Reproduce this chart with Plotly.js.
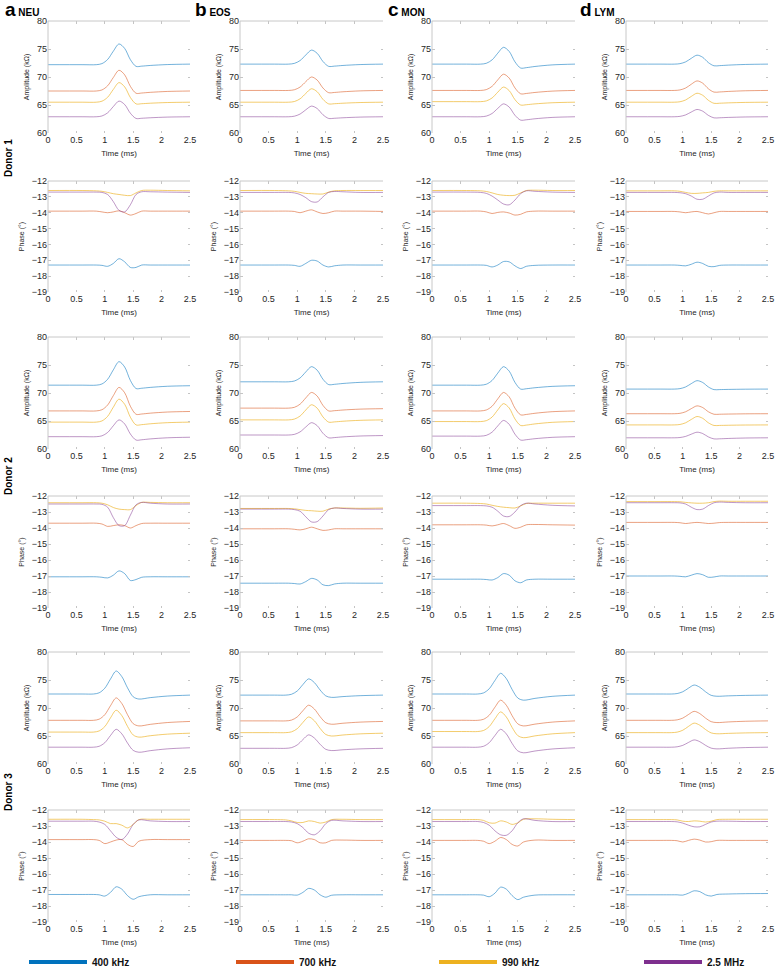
<!DOCTYPE html>
<html><head><meta charset="utf-8">
<script src="https://cdn.plot.ly/plotly-3.0.1.min.js"></script>
<style>html,body{margin:0;padding:0;background:#fff}#chart{width:775px;height:967px}</style>
</head><body><div id="chart"></div>
<script>
// ---------- categories / ticks ----------
const cellTypes = ['NEU','EOS','MON','LYM'];
const cellLetters = ['a','b','c','d'];
const donors = ['Donor 1','Donor 2','Donor 3'];
const freqs = ['400 kHz','700 kHz','990 kHz','2.5 MHz'];
const timeTicks = [0,0.5,1,1.5,2,2.5];
const ampTicks = [60,65,70,75,80];
const phaseTicks = [-19,-18,-17,-16,-15,-14,-13,-12];

// sample times (ms)
const timeD12 = [0,0.6,0.85,0.95,1.05,1.15,1.25,1.35,1.45,1.55,1.65,1.8,2.1,2.5];
const timeD3  = [0,0.6,0.8,0.9,1.0,1.1,1.2,1.3,1.4,1.5,1.6,1.8,2.1,2.5];

// ---------- amplitude (kΩ), rows: 400 kHz, 700 kHz, 990 kHz, 2.5 MHz ----------
const ampD1NEU = [
 [72.2,72.2,72.2,72.39,73.13,74.61,75.9,75.1,73.1,71.9,71.94,72.06,72.22,72.3],
 [67.5,67.5,67.5,67.69,68.43,69.91,71.2,70.38,68.33,67.1,67.14,67.26,67.42,67.5],
 [65.5,65.5,65.5,65.68,66.38,67.78,69.0,68.24,66.34,65.2,65.23,65.32,65.44,65.5],
 [62.9,62.9,62.9,63.04,63.6,64.72,65.7,65.08,63.53,62.6,62.63,62.72,62.84,62.9]];
const ampD1EOS = [
 [72.3,72.3,72.3,72.43,72.93,73.93,74.8,74.22,72.77,71.9,71.94,72.06,72.22,72.3],
 [67.6,67.6,67.6,67.72,68.2,69.16,70.0,69.44,68.04,67.2,67.24,67.36,67.52,67.6],
 [65.5,65.5,65.5,65.62,66.1,67.06,67.9,67.36,66.01,65.2,65.23,65.32,65.44,65.5],
 [62.9,62.9,62.9,63.0,63.38,64.14,64.8,64.36,63.26,62.6,62.63,62.72,62.84,62.9]];
const ampD1MON = [
 [72.3,72.3,72.3,72.45,73.05,74.25,75.3,74.56,72.71,71.6,71.67,71.88,72.16,72.3],
 [67.6,67.6,67.6,67.75,68.33,69.49,70.5,69.8,68.05,67.0,67.06,67.24,67.48,67.6],
 [65.6,65.6,65.6,65.73,66.25,67.29,68.2,67.56,65.96,65.0,65.05,65.2,65.4,65.5],
 [62.9,62.9,62.9,63.02,63.48,64.4,65.2,64.62,63.17,62.3,62.36,62.54,62.78,62.9]];
const ampD1LYM = [
 [72.3,72.3,72.3,72.38,72.7,73.34,73.9,73.52,72.57,72.0,72.03,72.12,72.24,72.3],
 [67.6,67.6,67.6,67.69,68.03,68.71,69.3,68.9,67.9,67.3,67.33,67.42,67.54,67.6],
 [65.5,65.5,65.5,65.58,65.9,66.54,67.1,66.74,65.84,65.3,65.32,65.38,65.46,65.5],
 [62.9,62.9,62.9,62.97,63.23,63.75,64.2,63.9,63.15,62.7,62.72,62.78,62.86,62.9]];
const ampD2NEU = [
 [71.4,71.4,71.4,71.61,72.45,74.13,75.6,74.64,72.24,70.8,70.85,71.0,71.2,71.3],
 [66.8,66.8,66.8,67.01,67.85,69.53,71.0,70.04,67.64,66.2,66.25,66.4,66.6,66.7],
 [64.8,64.8,64.8,65.01,65.83,67.47,68.9,67.98,65.68,64.3,64.35,64.5,64.7,64.8],
 [62.2,62.2,62.2,62.35,62.95,64.15,65.2,64.48,62.68,61.6,61.65,61.8,62.0,62.1]];
const ampD2EOS = [
 [72.0,72.0,72.0,72.14,72.68,73.76,74.7,74.06,72.46,71.5,71.55,71.7,71.9,72.0],
 [67.3,67.3,67.3,67.44,68.0,69.12,70.1,69.44,67.79,66.8,66.84,66.96,67.12,67.2],
 [65.2,65.2,65.2,65.34,65.88,66.96,67.9,67.28,65.73,64.8,64.84,64.96,65.12,65.2],
 [62.5,62.5,62.5,62.61,63.05,63.93,64.7,64.16,62.81,62.0,62.04,62.16,62.32,62.4]];
const ampD2MON = [
 [71.4,71.4,71.4,71.57,72.23,73.55,74.7,73.9,71.9,70.7,70.76,70.94,71.18,71.3],
 [66.8,66.8,66.8,66.97,67.63,68.95,70.1,69.3,67.3,66.1,66.17,66.38,66.66,66.8],
 [64.9,64.9,64.9,65.06,65.7,66.98,68.1,67.32,65.37,64.2,64.27,64.48,64.76,64.9],
 [62.3,62.3,62.3,62.44,63.0,64.12,65.1,64.4,62.65,61.6,61.66,61.84,62.08,62.2]];
const ampD2LYM = [
 [70.7,70.7,70.7,70.78,71.08,71.68,72.2,71.88,71.08,70.6,70.61,70.64,70.68,70.7],
 [66.3,66.3,66.3,66.37,66.65,67.21,67.7,67.4,66.65,66.2,66.21,66.24,66.28,66.3],
 [64.3,64.3,64.3,64.38,64.68,65.28,65.8,65.48,64.68,64.2,64.21,64.24,64.28,64.3],
 [62.0,62.0,62.0,62.05,62.25,62.65,63.0,62.76,62.16,61.8,61.82,61.88,61.96,62.0]];
const ampD3NEU = [
 [72.5,72.5,72.5,72.71,73.53,75.17,76.6,75.6,73.6,72.0,71.6,71.85,72.13,72.3],
 [67.8,67.8,67.8,68.0,68.8,70.4,71.8,70.8,68.8,67.2,66.8,67.08,67.4,67.6],
 [65.7,65.7,65.7,65.9,66.68,68.24,69.6,68.64,66.72,65.18,64.8,65.05,65.33,65.5],
 [63.0,63.0,63.0,63.16,63.8,65.08,66.2,65.38,63.74,62.43,62.1,62.38,62.7,62.9]];
const ampD3EOS = [
 [72.3,72.3,72.3,72.45,73.03,74.19,75.2,74.54,73.22,72.16,71.9,72.04,72.2,72.3],
 [67.7,67.7,67.7,67.84,68.4,69.52,70.5,69.82,68.46,67.37,67.1,67.28,67.48,67.6],
 [65.6,65.6,65.6,65.74,66.3,67.42,68.4,67.72,66.36,65.27,65.0,65.18,65.38,65.5],
 [62.8,62.8,62.8,62.92,63.4,64.36,65.2,64.64,63.52,62.62,62.4,62.54,62.7,62.8]];
const ampD3MON = [
 [72.5,72.5,72.5,72.69,73.43,74.91,76.2,75.24,73.32,71.78,71.4,71.72,72.08,72.3],
 [67.8,67.8,67.8,67.98,68.7,70.14,71.4,70.48,68.64,67.17,66.8,67.12,67.48,67.7],
 [65.8,65.8,65.8,65.98,66.68,68.08,69.3,68.38,66.54,65.07,64.7,65.02,65.38,65.6],
 [63.0,63.0,63.0,63.16,63.8,65.08,66.2,65.36,63.68,62.34,62.0,62.32,62.68,62.9]];
const ampD3LYM = [
 [72.5,72.5,72.5,72.58,72.9,73.54,74.1,73.7,72.9,72.26,72.1,72.17,72.25,72.3],
 [67.8,67.8,67.8,67.88,68.2,68.84,69.4,69.0,68.2,67.56,67.4,67.51,67.63,67.7],
 [65.6,65.6,65.6,65.69,66.03,66.71,67.3,66.92,66.16,65.55,65.4,65.47,65.55,65.6],
 [63.0,63.0,63.0,63.07,63.33,63.85,64.3,63.98,63.34,62.83,62.7,62.81,62.93,63.0]];

// ---------- phase (°) ----------
const phD1NEU = [
 [-17.3,-17.3,-17.3,-17.32,-17.38,-17.2,-16.9,-17.1,-17.45,-17.45,-17.3,-17.3,-17.3,-17.3],
 [-13.9,-13.9,-13.9,-13.95,-14.0,-13.95,-13.88,-14.0,-14.15,-14.05,-13.9,-13.9,-13.9,-13.9],
 [-12.6,-12.6,-12.62,-12.65,-12.72,-12.8,-12.85,-12.9,-12.92,-12.75,-12.6,-12.58,-12.6,-12.62],
 [-12.7,-12.7,-12.7,-12.72,-12.85,-13.3,-13.85,-13.95,-13.5,-12.85,-12.68,-12.68,-12.7,-12.72]];
const phD1EOS = [
 [-17.3,-17.3,-17.3,-17.32,-17.38,-17.2,-17.0,-17.05,-17.3,-17.42,-17.35,-17.3,-17.3,-17.3],
 [-13.9,-13.9,-13.9,-13.92,-14.0,-13.9,-13.82,-13.95,-14.05,-14.0,-13.9,-13.9,-13.9,-13.92],
 [-12.6,-12.6,-12.62,-12.65,-12.72,-12.78,-12.8,-12.82,-12.82,-12.7,-12.62,-12.6,-12.6,-12.6],
 [-12.72,-12.72,-12.72,-12.75,-12.85,-13.05,-13.3,-13.32,-13.0,-12.72,-12.66,-12.68,-12.72,-12.72]];
const phD1MON = [
 [-17.3,-17.3,-17.3,-17.32,-17.42,-17.3,-17.08,-17.1,-17.35,-17.52,-17.38,-17.32,-17.3,-17.3],
 [-13.9,-13.9,-13.9,-13.95,-14.05,-13.98,-13.95,-14.02,-14.15,-14.1,-13.95,-13.9,-13.9,-13.9],
 [-12.6,-12.6,-12.62,-12.66,-12.75,-12.85,-12.9,-12.92,-12.9,-12.75,-12.6,-12.58,-12.6,-12.6],
 [-12.7,-12.7,-12.72,-12.78,-12.95,-13.2,-13.45,-13.5,-13.2,-12.8,-12.62,-12.65,-12.7,-12.72]];
const phD1LYM = [
 [-17.3,-17.3,-17.3,-17.32,-17.35,-17.25,-17.12,-17.2,-17.38,-17.4,-17.32,-17.3,-17.3,-17.3],
 [-13.92,-13.92,-13.92,-13.95,-14.0,-13.95,-13.92,-14.0,-14.08,-14.0,-13.92,-13.92,-13.92,-13.92],
 [-12.62,-12.62,-12.62,-12.65,-12.72,-12.78,-12.78,-12.75,-12.72,-12.65,-12.62,-12.62,-12.62,-12.62],
 [-12.72,-12.72,-12.72,-12.74,-12.8,-12.95,-13.15,-13.15,-12.95,-12.75,-12.7,-12.72,-12.72,-12.72]];
const phD2NEU = [
 [-17.05,-17.05,-17.05,-17.08,-17.12,-16.95,-16.68,-16.85,-17.28,-17.22,-17.08,-17.05,-17.05,-17.05],
 [-13.7,-13.7,-13.7,-13.75,-13.9,-13.85,-13.8,-13.85,-14.0,-13.85,-13.72,-13.7,-13.7,-13.7],
 [-12.42,-12.42,-12.42,-12.45,-12.55,-12.72,-12.82,-12.85,-12.85,-12.6,-12.4,-12.4,-12.42,-12.42],
 [-12.5,-12.5,-12.5,-12.52,-12.7,-13.35,-13.85,-13.85,-13.2,-12.55,-12.4,-12.45,-12.5,-12.5]];
const phD2EOS = [
 [-17.45,-17.45,-17.45,-17.47,-17.5,-17.35,-17.15,-17.25,-17.55,-17.6,-17.5,-17.45,-17.45,-17.45],
 [-14.05,-14.05,-14.05,-14.08,-14.12,-14.05,-13.95,-14.05,-14.15,-14.12,-14.05,-14.05,-14.05,-14.05],
 [-12.78,-12.78,-12.78,-12.8,-12.85,-12.9,-12.92,-12.95,-12.95,-12.82,-12.75,-12.75,-12.77,-12.75],
 [-12.82,-12.82,-12.82,-12.85,-12.95,-13.3,-13.62,-13.6,-13.25,-12.85,-12.75,-12.78,-12.82,-12.82]];
const phD2MON = [
 [-17.2,-17.2,-17.2,-17.22,-17.25,-17.1,-16.85,-16.95,-17.3,-17.42,-17.25,-17.2,-17.2,-17.2],
 [-13.8,-13.8,-13.8,-13.82,-13.87,-13.8,-13.72,-13.85,-14.02,-13.95,-13.8,-13.78,-13.8,-13.82],
 [-12.45,-12.45,-12.47,-12.5,-12.58,-12.65,-12.7,-12.73,-12.75,-12.62,-12.47,-12.45,-12.45,-12.45],
 [-12.6,-12.6,-12.6,-12.62,-12.7,-12.95,-13.25,-13.28,-13.0,-12.6,-12.45,-12.5,-12.58,-12.62]];
const phD2LYM = [
 [-17.0,-17.0,-17.0,-17.02,-17.05,-16.95,-16.85,-16.92,-17.08,-17.06,-17.0,-17.0,-17.0,-17.0],
 [-13.65,-13.65,-13.65,-13.67,-13.72,-13.68,-13.65,-13.68,-13.72,-13.7,-13.66,-13.65,-13.65,-13.65],
 [-12.35,-12.35,-12.35,-12.36,-12.4,-12.43,-12.45,-12.45,-12.42,-12.35,-12.32,-12.33,-12.33,-12.33],
 [-12.42,-12.42,-12.42,-12.43,-12.5,-12.7,-12.85,-12.82,-12.6,-12.42,-12.38,-12.4,-12.42,-12.42]];
const phD3NEU = [
 [-17.28,-17.28,-17.28,-17.3,-17.38,-17.15,-16.8,-16.95,-17.35,-17.58,-17.42,-17.3,-17.3,-17.3],
 [-13.85,-13.85,-13.85,-13.9,-14.1,-14.0,-13.88,-13.85,-14.15,-14.28,-13.95,-13.85,-13.85,-13.85],
 [-12.58,-12.58,-12.6,-12.62,-12.7,-12.85,-12.85,-12.95,-13.12,-12.9,-12.6,-12.58,-12.58,-12.58],
 [-12.7,-12.7,-12.7,-12.75,-12.9,-13.3,-13.7,-13.85,-13.5,-12.9,-12.62,-12.68,-12.72,-12.72]];
const phD3EOS = [
 [-17.3,-17.3,-17.3,-17.3,-17.32,-17.15,-16.9,-17.0,-17.3,-17.45,-17.33,-17.3,-17.3,-17.3],
 [-13.9,-13.9,-13.9,-13.92,-14.05,-13.95,-13.8,-13.85,-14.05,-14.05,-13.9,-13.88,-13.9,-13.9],
 [-12.6,-12.6,-12.62,-12.68,-12.78,-12.78,-12.68,-12.72,-12.82,-12.75,-12.6,-12.58,-12.6,-12.6],
 [-12.72,-12.72,-12.72,-12.75,-12.85,-13.1,-13.45,-13.55,-13.3,-12.85,-12.65,-12.68,-12.72,-12.72]];
const phD3MON = [
 [-17.3,-17.3,-17.3,-17.32,-17.42,-17.2,-16.82,-16.95,-17.35,-17.6,-17.45,-17.32,-17.3,-17.3],
 [-13.9,-13.9,-13.9,-13.95,-14.1,-13.95,-13.72,-13.85,-14.15,-14.25,-14.0,-13.88,-13.9,-13.9],
 [-12.6,-12.6,-12.6,-12.65,-12.8,-12.82,-12.68,-12.75,-12.9,-12.8,-12.58,-12.55,-12.58,-12.6],
 [-12.72,-12.72,-12.72,-12.78,-12.95,-13.3,-13.55,-13.58,-13.3,-12.8,-12.55,-12.65,-12.72,-12.72]];
const phD3LYM = [
 [-17.3,-17.3,-17.3,-17.3,-17.32,-17.2,-17.05,-17.1,-17.3,-17.38,-17.28,-17.25,-17.23,-17.22],
 [-13.9,-13.9,-13.9,-13.92,-14.0,-13.9,-13.82,-13.88,-14.0,-13.98,-13.9,-13.9,-13.9,-13.9],
 [-12.6,-12.6,-12.6,-12.62,-12.7,-12.72,-12.68,-12.7,-12.75,-12.7,-12.6,-12.58,-12.58,-12.58],
 [-12.72,-12.72,-12.72,-12.74,-12.82,-12.95,-13.05,-13.05,-12.9,-12.75,-12.7,-12.7,-12.72,-12.72]];

// ---------- styling ----------
const W = 775, H = 967;
const FONT = 'Liberation Sans, Arial, Helvetica, sans-serif';
const lineColors = ['rgba(0,114,189,0.55)','rgba(217,83,25,0.55)','rgba(237,177,32,0.65)','rgba(126,47,142,0.5)'];
const legendColors = ['#0072BD','#D95319','#EDB120','#7E2F8E'];
const colPx = [[48,190],[240,383],[432,575],[626,768]];
const rowPx = [[21,133],[181,292],[337,449],[496,608],[652,764],[810,922]];
const legendPx = [24, 231, 434, 639];

const rows = [
  {kind:'amp',   t:timeD12, panels:[ampD1NEU,ampD1EOS,ampD1MON,ampD1LYM]},
  {kind:'phase', t:timeD12, panels:[phD1NEU,phD1EOS,phD1MON,phD1LYM]},
  {kind:'amp',   t:timeD12, panels:[ampD2NEU,ampD2EOS,ampD2MON,ampD2LYM]},
  {kind:'phase', t:timeD12, panels:[phD2NEU,phD2EOS,phD2MON,phD2LYM]},
  {kind:'amp',   t:timeD3,  panels:[ampD3NEU,ampD3EOS,ampD3MON,ampD3LYM]},
  {kind:'phase', t:timeD3,  panels:[phD3NEU,phD3EOS,phD3MON,phD3LYM]}
];

const traces = [];
const layout = {
  width: W, height: H,
  margin: {l:0, r:0, t:0, b:0, autoexpand:false},
  paper_bgcolor:'#fff', plot_bgcolor:'#fff',
  font: {family: FONT, color:'#262626'},
  showlegend: true,
  shapes: [], annotations: []
};

rows.forEach((row, r) => {
  row.panels.forEach((panel, c) => {
    const n = r*4 + c + 1;
    const xa = 'x' + (n === 1 ? '' : n), ya = 'y' + (n === 1 ? '' : n);
    const xk = 'xaxis' + (n === 1 ? '' : n), yk = 'yaxis' + (n === 1 ? '' : n);
    panel.forEach((vals, k) => {
      traces.push({type:'scatter', mode:'lines', x: row.t, y: vals, xaxis: xa, yaxis: ya,
        line:{color: lineColors[k], width: 1, shape:'spline', smoothing: 0.9},
        showlegend:false, hoverinfo:'skip'});
    });
    const isAmp = row.kind === 'amp';
    const common = {showgrid:false, zeroline:false, showline:false, ticks:'inside', ticklen:2.5,
      tickwidth:1, tickcolor:'#c4c4c4', mirror:'ticks', tickfont:{family:FONT, size:9, color:'#262626'}};
    layout[xk] = Object.assign({}, common, {
      domain:[colPx[c][0]/W, colPx[c][1]/W], range:[0,2.5], tickvals: timeTicks, anchor: ya,
      title:{text:'Time (ms)', font:{family:FONT, size:8, color:'#262626'}, standoff: 6}});
    layout[yk] = Object.assign({}, common, {
      domain:[1 - rowPx[r][1]/H, 1 - rowPx[r][0]/H],
      range: isAmp ? [60,80] : [-19,-12], tickvals: isAmp ? ampTicks : phaseTicks, anchor: xa,
      title:{text: isAmp ? 'Amplitude (kΩ)' : 'Phase (°)', font:{family:FONT, size:7, color:'#262626'}, standoff: 6}});
    // top border and left axis line
    layout.shapes.push({type:'line', xref: xa+' domain', yref: ya+' domain', x0:0, x1:1, y0:1, y1:1,
      line:{color:'#c8c8c8', width:1}});
    layout.shapes.push({type:'line', xref: xa+' domain', yref: ya+' domain', x0:0, x1:0, y0:0, y1:1,
      line:{color:'#c8c8c8', width:1}});
  });
});

// panel letters
const letterX = [3, 193, 386, 578];
cellTypes.forEach((ct, c) => {
  layout.annotations.push({xref:'paper', yref:'paper', x: letterX[c]/W, y: 1 - 9/H,
    xanchor:'left', yanchor:'middle', showarrow:false,
    text: '<b><span style="font-size:19px">' + cellLetters[c] + '</span> ' + ct + '</b>',
    font:{family:FONT, size:10, color:'#000'}});
});
// donor labels
const donorY = [158, 476, 792];
donors.forEach((d, i) => {
  layout.annotations.push({xref:'paper', yref:'paper', x: 8/W, y: 1 - donorY[i]/H,
    xanchor:'center', yanchor:'middle', showarrow:false, textangle:-90,
    text:'<b>' + d + '</b>', font:{family:FONT, size:10, color:'#000'}});
});

// legend entries: one small legend per frequency, spread along the bottom
freqs.forEach((f, k) => {
  const lname = k === 0 ? 'legend' : 'legend' + (k + 1);
  layout[lname] = {orientation:'h', x: legendPx[k]/W, xanchor:'left', y: 5/H, yanchor:'middle',
    itemwidth: 58, font:{family:FONT, size:10, color:'#111'}, bgcolor:'rgba(0,0,0,0)', borderwidth:0};
  traces.push({type:'scatter', mode:'lines', x:[null], y:[null], name:'<b>' + f + '</b>',
    legend: lname, line:{color: legendColors[k], width:4}, showlegend:true, hoverinfo:'skip'});
});

Plotly.newPlot('chart', traces, layout, {staticPlot:true, displayModeBar:false});
</script>
</body></html>
